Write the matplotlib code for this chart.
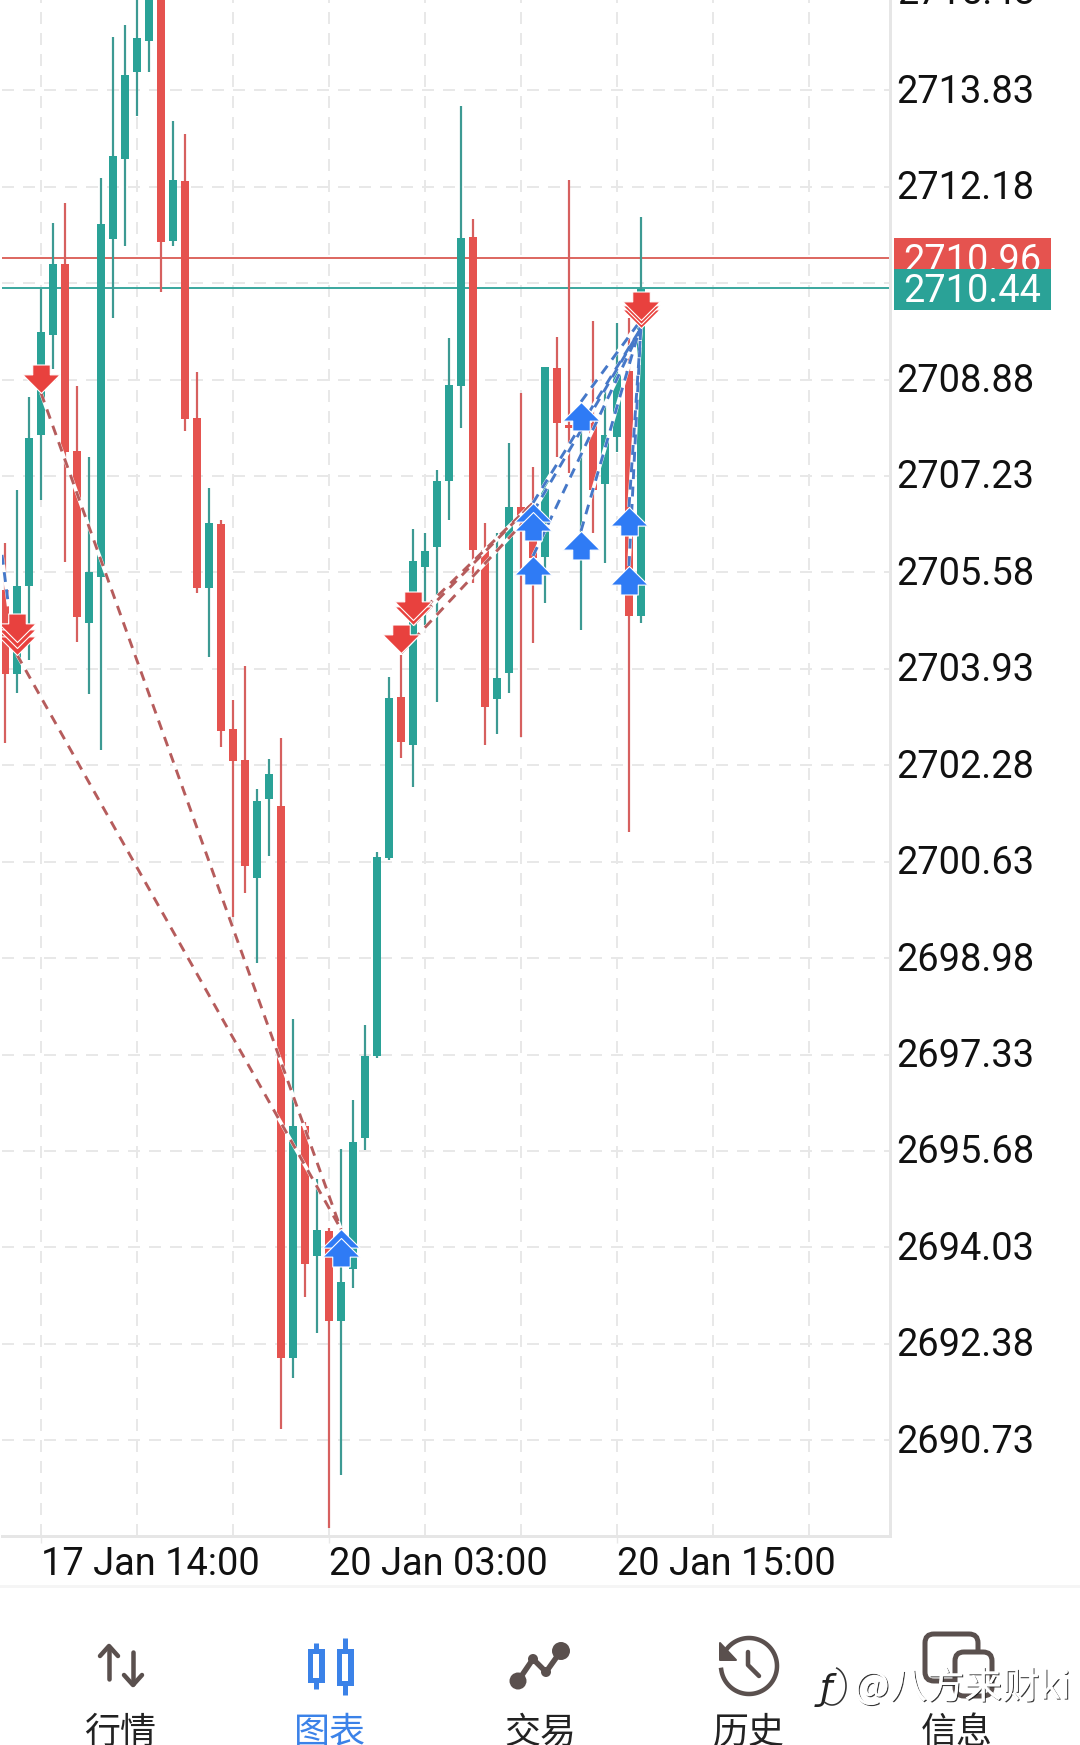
import numpy as np
import matplotlib
matplotlib.use("Agg")
import matplotlib.pyplot as plt
from matplotlib.path import Path
from matplotlib.patches import Rectangle, FancyBboxPatch, Polygon
from matplotlib.transforms import ScaledTranslation
import matplotlib.patheffects as pe

# ---------- data ----------
opens = [2705.28,2703.84,2705.35,2707.93,2709.64,2710.86,2707.66,2704.71,2705.50,2711.29,2712.65,2714.14,
         2714.67,2715.46,2711.25,2712.28,2708.22,2705.31,2706.41,2702.90,2702.37,2700.35,2701.70,2701.58,
         2692.14,2696.11,2693.88,2694.31,2692.77,2693.66,2695.90,2697.30,2700.69,2703.45,2702.63,2705.67,
         2706.02,2707.14,2708.77,2711.32,2705.96,2703.41,2703.86,2706.70,2706.70,2705.84,2709.08,2708.10,
         2705.93,2708.14,2707.09,2707.90,2709.03,2704.83]
highs = [2706.08,2706.99,2708.58,2710.43,2711.56,2711.90,2708.77,2707.56,2712.33,2714.74,2714.95,2715.89,
         2715.89,2715.60,2713.30,2713.08,2709.01,2707.02,2706.48,2703.40,2703.98,2701.87,2702.39,2702.75,
         2697.94,2696.18,2695.20,2694.36,2695.71,2696.55,2697.84,2700.80,2703.79,2704.17,2706.32,2706.25,
         2707.33,2709.59,2713.56,2711.63,2706.43,2706.25,2707.79,2708.65,2707.38,2709.10,2709.61,2712.30,
         2708.07,2709.88,2708.75,2709.85,2709.93,2711.66]
lows = [2702.66,2703.52,2704.08,2706.82,2709.06,2705.76,2704.39,2703.50,2702.54,2709.93,2711.17,2713.39,
        2714.14,2710.38,2711.17,2708.00,2705.23,2704.13,2702.59,2699.68,2700.09,2698.90,2700.73,2690.92,
        2691.80,2693.18,2692.56,2689.23,2690.13,2693.33,2695.70,2697.27,2700.66,2702.40,2701.91,2704.68,
        2703.36,2706.48,2708.05,2705.40,2702.63,2702.81,2703.52,2702.76,2704.37,2705.06,2707.56,2707.28,
        2704.59,2706.25,2705.74,2707.64,2701.14,2704.71]
closes = [2703.84,2705.35,2707.88,2709.69,2710.86,2707.64,2704.82,2705.59,2711.54,2712.71,2714.09,2714.73,
          2715.55,2711.23,2712.30,2708.21,2705.31,2706.43,2702.87,2702.35,2700.56,2701.67,2702.13,2692.14,
          2696.11,2693.75,2694.33,2692.77,2693.44,2695.83,2697.30,2700.71,2703.43,2702.68,2705.78,2705.95,
          2707.14,2708.79,2711.30,2705.96,2703.28,2703.77,2706.70,2706.53,2705.83,2709.10,2708.14,2708.05,
          2706.05,2706.99,2707.93,2709.01,2704.83,2710.43]

sell_idx = [1, 1, 1, 3, 33, 34, 34, 53, 53, 53]
sell_price = [2704.17, 2704.29, 2704.39, 2708.65, 2704.20, 2704.68, 2704.77, 2709.76, 2709.83, 2709.90]
buy_idx = [28, 28, 44, 44, 44, 48, 48, 52, 52]
buy_price = [2694.34, 2694.19, 2706.77, 2706.61, 2705.86, 2708.50, 2706.29, 2706.70, 2705.69]

red_from_idx = [1, 3, 33, 34, 34]
red_from_price = [2704.17, 2708.65, 2704.20, 2704.77, 2704.68]
red_to_idx = [28, 28, 44, 44, 44]
red_to_price = [2694.34, 2694.34, 2706.61, 2706.77, 2706.77]
blue_from_idx = [44, 44, 44, 48, 48, 52, 52, -0.25]
blue_from_price = [2706.77, 2706.61, 2705.86, 2708.50, 2706.29, 2706.70, 2705.69, 2705.88]
blue_to_idx = [53, 53, 53, 53, 53, 53, 53, 0.3]
blue_to_price = [2709.76, 2709.76, 2709.76, 2709.90, 2709.83, 2709.76, 2709.83, 2705.00]

y_ticks = [2713.83, 2712.18, 2710.53, 2708.88, 2707.23, 2705.58, 2703.93, 2702.28,
           2700.63, 2698.98, 2697.33, 2695.68, 2694.03, 2692.38, 2690.73]
y_top_label = 2715.48
x_major = [3, 27, 51]
x_major_labels = ["17 Jan 14:00", "20 Jan 03:00", "20 Jan 15:00"]
x_minor = [11, 19, 35, 43, 59, 67]
bid_price = 2710.44
ask_price = 2710.96
tab_labels = ["行情", "图表", "交易", "历史", "信息"]
watermark = "@八方来财ki"

# ---------- style ----------
TEAL, RED = "#2aa297", "#e5534f"
TEAL_W, RED_W = "#3d9a93", "#d6605f"
GRID = "#e8e8e8"
ICON = "#5a504e"
BLUE_TAB = "#3b82e8"
W, H = 1080, 1745
px = 0.72  # one pixel in points at 100 dpi
FS = 38*px

plt.rcParams['font.family'] = ['Roboto', 'Noto Sans CJK SC', 'DejaVu Sans']
fig = plt.figure(figsize=(W/100, H/100), dpi=100, facecolor="white")

# chart area: pixels 2..890 across, 0..1536 down
ax = fig.add_axes([2/W, 1-1536/H, 888/W, 1536/H])
ax.set_xlim((2-5)/12, (890-5)/12)
ax.set_ylim(2715.375-0.017112*1536, 2715.375)
ax.set_zorder(1)

ax.set_xticks(x_major, x_major_labels)
ax.set_xticks(x_minor, minor=True)
ax.set_yticks(y_ticks, [f"{v:.2f}" for v in y_ticks])
ax.yaxis.tick_right()
dash = (0, (6, 4.5))
ax.grid(True, which="both", color=GRID, lw=2*px, linestyle=dash, zorder=0)
ax.set_axisbelow(True)
for s in ("left", "top"):
    ax.spines[s].set_visible(False)
for s in ("right", "bottom"):
    ax.spines[s].set_color("#e6e6e6")
    ax.spines[s].set_linewidth(3*px)
ax.tick_params(axis="y", length=0, pad=6*px, labelsize=FS, labelcolor="#111111")
ax.tick_params(axis="x", which="major", length=5, width=1, color=GRID, pad=3*px, labelsize=FS, labelcolor="#111111")
ax.tick_params(axis="x", which="minor", length=0)
for t in ax.get_xticklabels():
    t.set_ha("left")
up_shift = ScaledTranslation(0, 2/100, fig.dpi_scale_trans)
for t in ax.get_yticklabels():
    t.set_transform(t.get_transform() + up_shift)
ax.text(1 + 7/888, y_top_label, f"{y_top_label:.2f}", transform=ax.get_yaxis_transform(), fontsize=FS,
        color="#111111", va="center", ha="left", clip_on=False)

# price lines
ax.axhline(ask_price, color="#dd6a63", lw=2*px, zorder=1.5)
ax.axhline(bid_price, color="#3fa9a0", lw=2*px, zorder=1.5)

# candles
x = np.arange(len(opens))
o, h, l, c = map(np.array, (opens, highs, lows, closes))
up = c >= o
ax.vlines(x, l, h, colors=[TEAL_W if u else RED_W for u in up], lw=2.2*px, zorder=2)
ax.bar(x, np.abs(c-o), bottom=np.minimum(o, c), width=8/12,
       color=[TEAL if u else RED for u in up], linewidth=0, zorder=3)

# trade lines
def trade_lines(x0, y0, x1, y1, color):
    for a, b, d, e in zip(x0, y0, x1, y1):
        ax.plot([a, d], [b, e], color="white", lw=3.6*px, zorder=4, solid_capstyle="butt")
        ax.plot([a, d], [b, e], color=color, lw=2.9*px, linestyle=(0, (3.4, 2.6)), zorder=4.1,
                dash_capstyle="butt")
trade_lines(red_from_idx, red_from_price, red_to_idx, red_to_price, "#b65c5c")
trade_lines(blue_from_idx, blue_from_price, blue_to_idx, blue_to_price, "#4678c8")

# arrows: anchored on their tips
sell_path = Path([(0, 0), (17, 17), (8, 17), (8, 26), (-8, 26), (-8, 17), (-17, 17), (0, 0)], closed=True)
buy_path = Path([(0, 0), (17, -17), (8, -17), (8, -26), (-8, -26), (-8, -17), (-17, -17), (0, 0)], closed=True)
for i, p in zip(sell_idx, sell_price):
    ax.plot([i], [p], marker=sell_path, ms=57*px, mfc="#e8413e", mec="white", mew=1.1*px, ls="none",
            zorder=5, clip_on=True)
for i, p in zip(buy_idx, buy_price):
    ax.plot([i], [p], marker=buy_path, ms=57*px, mfc="#2f7bf5", mec="white", mew=1.1*px, ls="none",
            zorder=5, clip_on=True)

# ---------- overlay in pixels: price boxes, tab bar ----------
ch = fig.add_axes([0, 0, 1, 1], facecolor="none")
ch.set_xlim(0, W)
ch.set_ylim(H, 0)
ch.axis("off")
ch.set_zorder(2)

ch.add_patch(Rectangle((894, 238), 157, 31, fc=RED, ec="none", zorder=1))
ch.text(972, 261, f"{ask_price:.2f}", color="white", fontsize=FS, ha="center", va="center", zorder=1.1,
        family="Roboto")
ch.add_patch(Rectangle((894, 269), 157, 41, fc=TEAL, ec="none", zorder=2))
ch.text(972, 291, f"{bid_price:.2f}", color="white", fontsize=FS, ha="center", va="center", zorder=2.1,
        family="Roboto")

ch.plot([0, W], [1586, 1586], color="#f5f5f5", lw=3*px)

lw_i = 4.5*px
# market arrows
ch.plot([109, 109], [1647, 1679], color=ICON, lw=lw_i, solid_capstyle="round")
ch.plot([100, 109, 118], [1656, 1646, 1656], color=ICON, lw=lw_i, solid_capstyle="round", solid_joinstyle="round")
ch.plot([133, 133], [1652, 1684], color=ICON, lw=lw_i, solid_capstyle="round")
ch.plot([124, 133, 142], [1675, 1685, 1675], color=ICON, lw=lw_i, solid_capstyle="round", solid_joinstyle="round")
# chart candles
for cx, w0, w1, b0, b1 in [(316, 1643, 1689, 1649, 1683), (345, 1638, 1695, 1649, 1686)]:
    ch.plot([cx, cx], [w0, w1], color=BLUE_TAB, lw=5*px, solid_capstyle="butt")
    ch.add_patch(Rectangle((cx-8.5, b0), 17, b1-b0, fc=BLUE_TAB, ec="none", zorder=3))
    ch.add_patch(Rectangle((cx-3, b0+5), 6, b1-b0-10, fc="white", ec="none", zorder=3.1))
# trade squiggle
tx, ty = [518, 533, 546, 561], [1681, 1659, 1672, 1651]
ch.plot(tx, ty, color=ICON, lw=5.5*px, solid_joinstyle="round")
ch.scatter(tx, ty, s=[(2*r*px)**2 for r in (8.5, 5, 5, 9)], color=ICON, linewidths=0, zorder=3)
# history clock
th = np.radians(np.linspace(204, 532, 120))
ch.plot(749+28*np.cos(th), 1666+28*np.sin(th), color=ICON, lw=lw_i)
ch.add_patch(Polygon([(720, 1643), (720, 1660), (736, 1660)], closed=True, fc=ICON, ec=ICON, lw=2*px, joinstyle="round"))
ch.plot([748, 748, 759], [1652, 1665, 1676], color=ICON, lw=lw_i, solid_capstyle="round", solid_joinstyle="round")
# messages
ch.add_patch(FancyBboxPatch((925, 1634), 53, 47, boxstyle="round,pad=0,rounding_size=9", fc="white", ec=ICON, lw=5*px, zorder=3))
ch.add_patch(FancyBboxPatch((955, 1652), 37, 44, boxstyle="round,pad=0,rounding_size=9", fc="white", ec=ICON, lw=5*px, zorder=3.1))

tab_x = [120, 330, 540, 749, 957]
for lab, tx_ in zip(tab_labels, tab_x):
    ch.text(tx_, 1733, lab, ha="center", va="center", fontsize=36*px,
            color=BLUE_TAB if lab == "图表" else "#222222", family=["Noto Sans CJK SC", "DejaVu Sans"], zorder=4)

# watermark: white letters with a thin dark edge
shadow = [pe.withSimplePatchShadow(offset=(0.8, -0.8), shadow_rgbFace="#222222", alpha=0.9), pe.Normal()]
ch.text(854, 1688, watermark, ha="left", va="center", fontsize=37.5*px, color="white",
        family=["Noto Sans CJK SC", "DejaVu Sans"], zorder=6, path_effects=shadow)
ch.text(826, 1690, "ƒ", ha="center", va="center", fontsize=36*px, color="#222222", style="italic", zorder=6,
        family="DejaVu Sans")
th2 = np.radians(np.linspace(-70, 120, 40))
ch.plot(832+14*np.cos(th2), 1686+19*np.sin(th2), color="#333333", lw=1.6*px, zorder=6)

fig.savefig("out.png", dpi=100)
